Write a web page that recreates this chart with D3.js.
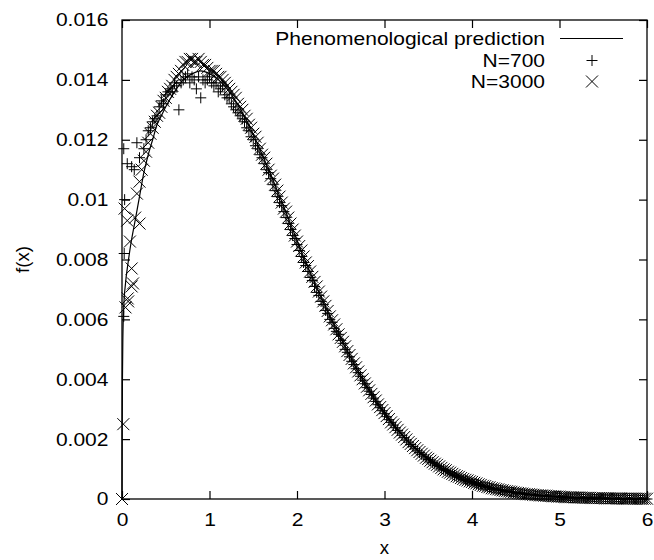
<!DOCTYPE html>
<html>
<head>
<meta charset="utf-8">
<script src="https://cdn.jsdelivr.net/npm/d3@7"></script>
<style>
body { margin: 0; background: #fff; }
text { font-family: "Liberation Sans", Arial, Helvetica, sans-serif; fill: #000; }
</style>
</head>
<body>
<svg class="chart" width="654" height="560"></svg>
<script>
// tick values / labels (gnuplot style)
var xTicks = [0, 1, 2, 3, 4, 5, 6]
var yTicks = [0, 0.002, 0.004, 0.006, 0.008, 0.01, 0.012, 0.014, 0.016]
var yTickLabels = ['0', '0.002', '0.004', '0.006', '0.008', '0.01', '0.012', '0.014', '0.016']

var legendLabels = ['Phenomenological prediction', 'N=700', 'N=3000']

// phenomenological prediction curve
var predX = [0, 0.002, 0.005, 0.01, 0.02, 0.04, 0.07, 0.1, 0.15, 0.2, 0.25, 0.3, 0.35, 0.4, 0.45, 0.5, 0.6, 0.7, 0.8, 0.9,
    1.0, 1.1, 1.2, 1.3, 1.4, 1.5, 1.6, 1.7, 1.8, 1.9, 2.0, 2.1, 2.2, 2.3, 2.4, 2.5, 2.6, 2.7, 2.8, 2.9,
    3.0, 3.1, 3.2, 3.3, 3.4, 3.5, 3.6, 3.7, 3.8, 3.9, 4.0, 4.2, 4.4, 4.6, 4.8, 5.0, 5.5, 6.0]
var predY = [0, 0.0022, 0.0040, 0.0054, 0.0064, 0.0072, 0.0079, 0.0085, 0.0093, 0.0101, 0.0109, 0.0115, 0.0120, 0.0125, 0.0128, 0.0131, 0.0136, 0.0140, 0.0142, 0.0143,
    0.01421, 0.01401, 0.0137, 0.01329, 0.01278, 0.01218, 0.01152, 0.01084, 0.01012, 0.00939, 0.00864, 0.00792, 0.00724, 0.00659, 0.00596, 0.00537, 0.0048, 0.00425, 0.00374, 0.00328,
    0.00286, 0.00248, 0.00214, 0.00183, 0.00156, 0.00133, 0.00113, 0.00095, 0.00079, 0.00066, 0.00056, 0.00038, 0.00026, 0.00017, 0.00011, 0.00007, 0.00002, 0.000005]

// N=700 histogram points  [x, f(x)]
var n700 = [
    [0.02, 0.0061], [0.025, 0.0082], [0.03, 0.0100], [0.02, 0.0117], [0.06, 0.0112], [0.11, 0.0111], [0.14, 0.0110], [0.17, 0.0119], [0.2, 0.0114],
    [0.25, 0.0117], [0.3, 0.0123], [0.35, 0.0126], [0.4, 0.0128], [0.45, 0.0133], [0.5, 0.0135], [0.55, 0.0137], [0.6, 0.0139], [0.65, 0.0130], [0.7, 0.0140],
    [0.75, 0.0142], [0.8, 0.0141], [0.85, 0.0137], [0.9, 0.0134], [0.95, 0.0139], [1.0, 0.0141], [1.05, 0.0138], [1.1, 0.0136], [1.15, 0.0138], [1.2, 0.0134],
    [1.25, 0.0132], [1.3, 0.0130], [1.35, 0.0128], [1.4, 0.0126], [1.45, 0.0123], [1.5, 0.0120], [1.55, 0.0117], [1.6, 0.0114], [1.65, 0.0110], [1.7, 0.0107],
    [1.75, 0.0103], [1.8, 0.0099], [1.85, 0.0096], [1.9, 0.0092], [1.95, 0.0088], [2.0, 0.0085], [2.05, 0.0081], [2.1, 0.0078], [2.15, 0.0074], [2.2, 0.0071],
    [2.25, 0.0068], [2.3, 0.0065], [2.35, 0.0062], [2.4, 0.0059], [2.45, 0.0056], [2.5, 0.0053], [2.55, 0.0050], [2.6, 0.00475], [2.65, 0.00449], [2.7, 0.00422],
    [2.75, 0.00397], [2.8, 0.00372], [2.85, 0.00349], [2.9, 0.00326], [2.95, 0.00305], [3.0, 0.00285], [3.05, 0.00265], [3.1, 0.00247], [3.15, 0.00229], [3.2, 0.00213],
    [3.25, 0.00197], [3.3, 0.00182], [3.35, 0.00168], [3.4, 0.00155], [3.45, 0.00143], [3.5, 0.00132], [3.55, 0.00122], [3.6, 0.00112], [3.65, 0.00103], [3.7, 0.00095],
    [3.75, 0.00087], [3.8, 0.00079], [3.85, 0.00073], [3.9, 0.00066], [3.95, 0.00061], [4.0, 0.00056], [4.05, 0.00051], [4.1, 0.00046], [4.15, 0.00042], [4.2, 0.00038],
    [4.25, 0.00034], [4.3, 0.00031], [4.35, 0.00029], [4.4, 0.00026], [4.45, 0.00023], [4.5, 0.00021], [4.55, 0.00019], [4.6, 0.00017], [4.65, 0.00015], [4.7, 0.00014],
    [4.75, 0.00012], [4.8, 0.00011], [4.85, 0.0001], [4.9, 0.00009], [4.95, 0.00008], [5.0, 0.00007], [5.05, 0.00006], [5.1, 0.00005], [5.15, 0.00005], [5.2, 0.00004],
    [5.25, 0.00004], [5.3, 0.00003], [5.35, 0.00003], [5.4, 0.00003], [5.45, 0.00002], [5.5, 0.00002], [5.55, 0.00002], [5.6, 0.00002], [5.65, 0.00001], [5.7, 0.00001],
    [5.75, 0.00001], [5.8, 0.00001], [5.85, 0.00001], [5.9, 0], [5.95, 0], [6.0, 0],
    [0.275, 0.0120], [0.325, 0.0124], [0.375, 0.0127], [0.425, 0.0131], [0.475, 0.0132], [0.525, 0.0136], [0.575, 0.0136], [0.625, 0.0138], [0.675, 0.0139], [0.725, 0.0141],
    [0.775, 0.0139], [0.825, 0.0140], [0.875, 0.0141], [0.925, 0.0140], [0.975, 0.0140], [1.025, 0.0139], [1.075, 0.0139], [1.125, 0.0137], [1.175, 0.0135], [1.225, 0.0134],
    [1.275, 0.0131], [1.325, 0.0129], [1.375, 0.0127], [1.425, 0.0124], [1.475, 0.0121], [1.525, 0.0118], [1.575, 0.0115], [1.625, 0.0112], [1.675, 0.0109], [1.725, 0.0105],
    [1.775, 0.0101], [1.825, 0.0098], [1.875, 0.0094], [1.925, 0.0090], [1.975, 0.0087], [2.025, 0.0083], [2.075, 0.0079], [2.125, 0.0076], [2.175, 0.0073], [2.225, 0.0069],
    [2.275, 0.0066], [2.325, 0.0063], [2.375, 0.0060], [2.425, 0.0057], [2.475, 0.0055], [2.525, 0.0052], [2.575, 0.0049], [2.625, 0.0046], [2.675, 0.00435], [2.725, 0.0041],
    [2.775, 0.00385], [2.825, 0.0036], [2.875, 0.00337], [2.925, 0.00315], [2.975, 0.00295], [3.025, 0.00275], [3.075, 0.00256], [3.125, 0.00238], [3.175, 0.00221], [3.225, 0.00205],
    [3.275, 0.0019], [3.325, 0.00175], [3.375, 0.00161], [3.425, 0.00149], [3.475, 0.00137], [3.525, 0.00127], [3.575, 0.00117], [3.625, 0.00108], [3.675, 0.00099], [3.725, 0.00091],
    [3.775, 0.00083], [3.825, 0.00076], [3.875, 0.0007], [3.925, 0.00064], [3.975, 0.00058], [4.025, 0.00053], [4.075, 0.00048], [4.125, 0.00044], [4.175, 0.0004], [4.225, 0.00036],
    [4.275, 0.00033], [4.325, 0.0003], [4.375, 0.00027], [4.425, 0.00024], [4.475, 0.00022], [4.525, 0.0002], [4.575, 0.00018], [4.625, 0.00016], [4.675, 0.00014], [4.725, 0.00013],
    [4.775, 0.00012], [4.825, 0.0001], [4.875, 0.00009], [4.925, 0.00008], [4.975, 0.00008], [5.025, 0.00007], [5.075, 0.00006], [5.125, 0.00005], [5.175, 0.00005], [5.225, 0.00004],
    [5.275, 0.00004], [5.325, 0.00003], [5.375, 0.00003], [5.425, 0.00002], [5.475, 0.00002], [5.525, 0.00002], [5.575, 0.00002], [5.625, 0.00001], [5.675, 0.00001], [5.725, 0.00001],
    [5.775, 0.00001], [5.825, 0.00001], [5.875, 0], [5.925, 0], [5.975, 0]
]

// N=3000 histogram points  [x, f(x)]
var n3000 = [
    [0, 0], [0.015, 0.0025], [0.04, 0.0064], [0.065, 0.0067], [0.07, 0.0066], [0.11, 0.0071], [0.126, 0.0072], [0.11, 0.0077], [0.09, 0.0086], [0.03, 0.0097],
    [0.06, 0.0093], [0.15, 0.0094], [0.2, 0.0092], [0.17, 0.0102], [0.2, 0.0106],
    [0.225, 0.0110], [0.275, 0.0116], [0.325, 0.0122], [0.375, 0.0126], [0.425, 0.0129], [0.475, 0.0133], [0.525, 0.0136], [0.575, 0.0138], [0.625, 0.0141], [0.675, 0.0143],
    [0.725, 0.0146], [0.775, 0.0147], [0.825, 0.0146], [0.875, 0.0147], [0.925, 0.0145], [0.975, 0.0144], [1.025, 0.0143], [1.075, 0.0142], [1.125, 0.0141], [1.175, 0.0139],
    [1.225, 0.0137], [1.275, 0.0135], [1.325, 0.0132], [1.375, 0.0130], [1.425, 0.0127], [1.475, 0.0124], [1.525, 0.0121], [1.575, 0.0117], [1.625, 0.0114], [1.675, 0.0110],
    [1.725, 0.0107], [1.775, 0.0103], [1.825, 0.0099], [1.875, 0.0096], [1.925, 0.0092], [1.975, 0.0088], [2.025, 0.00845], [2.075, 0.0081], [2.125, 0.00778], [2.175, 0.00742],
    [2.225, 0.0071], [2.275, 0.00676], [2.325, 0.00645], [2.375, 0.0061], [2.425, 0.00583], [2.475, 0.0055], [2.525, 0.00525], [2.575, 0.00494], [2.625, 0.00468], [2.675, 0.0044],
    [2.725, 0.00413], [2.775, 0.00386], [2.825, 0.00363], [2.875, 0.0034], [2.925, 0.00316], [2.975, 0.00297], [3.025, 0.00277], [3.075, 0.00256], [3.125, 0.0024], [3.175, 0.00222],
    [3.225, 0.00207], [3.275, 0.0019], [3.325, 0.00177], [3.375, 0.00163], [3.425, 0.00151], [3.475, 0.00138], [3.525, 0.00128], [3.575, 0.00118], [3.625, 0.00109], [3.675, 0.00099],
    [3.725, 0.00091], [3.775, 0.00084], [3.825, 0.00076], [3.875, 0.0007], [3.925, 0.00064], [3.975, 0.00059], [4.025, 0.00054], [4.075, 0.00049], [4.125, 0.00044], [4.175, 0.0004],
    [4.225, 0.00036], [4.275, 0.00033], [4.325, 0.0003], [4.375, 0.00027], [4.425, 0.00025], [4.475, 0.00022], [4.525, 0.0002], [4.575, 0.00018], [4.625, 0.00016], [4.675, 0.00015],
    [4.725, 0.00013], [4.775, 0.00012], [4.825, 0.00011], [4.875, 0.0001], [4.925, 0.00009], [4.975, 0.00008], [5.025, 0.00007], [5.075, 0.00006], [5.125, 0.00006], [5.175, 0.00005],
    [5.225, 0.00005], [5.275, 0.00004], [5.325, 0.00004], [5.375, 0.00003], [5.425, 0.00003], [5.475, 0.00003], [5.525, 0.00002], [5.575, 0.00002], [5.625, 0.00002], [5.675, 0.00002],
    [5.725, 0.00001], [5.775, 0.00001], [5.825, 0.00001], [5.875, 0.00001], [5.925, 0.00001], [5.975, 0.00001],
    [0.25, 0.0113], [0.3, 0.0119], [0.35, 0.0124], [0.4, 0.0128], [0.45, 0.0131], [0.5, 0.0134], [0.55, 0.0137], [0.6, 0.0140], [0.65, 0.0142], [0.7, 0.0145],
    [0.75, 0.0146], [0.8, 0.0147], [0.85, 0.0146], [0.9, 0.0146], [0.95, 0.0145], [1.0, 0.0143], [1.05, 0.0143], [1.1, 0.0141], [1.15, 0.0140], [1.2, 0.0138],
    [1.25, 0.0136], [1.3, 0.0134], [1.35, 0.0131], [1.4, 0.0128], [1.45, 0.0125], [1.5, 0.0122], [1.55, 0.0119], [1.6, 0.0115], [1.65, 0.0112], [1.7, 0.0108],
    [1.75, 0.0105], [1.8, 0.0101], [1.85, 0.0097], [1.9, 0.0094], [1.95, 0.0090], [2.0, 0.0086], [2.05, 0.0083], [2.1, 0.0079], [2.15, 0.0076], [2.2, 0.00725],
    [2.25, 0.00693], [2.3, 0.0066], [2.35, 0.00628], [2.4, 0.00597], [2.45, 0.00567], [2.5, 0.00538], [2.55, 0.0051], [2.6, 0.00481], [2.65, 0.00453], [2.7, 0.00426],
    [2.75, 0.004], [2.8, 0.00375], [2.85, 0.00351], [2.9, 0.00329], [2.95, 0.00307], [3.0, 0.00287], [3.05, 0.00267], [3.1, 0.00249], [3.15, 0.00231], [3.2, 0.00215],
    [3.25, 0.00199], [3.3, 0.00184], [3.35, 0.0017], [3.4, 0.00157], [3.45, 0.00145], [3.5, 0.00134], [3.55, 0.00123], [3.6, 0.00114], [3.65, 0.00104], [3.7, 0.00096],
    [3.75, 0.00088], [3.8, 0.0008], [3.85, 0.00074], [3.9, 0.00067], [3.95, 0.00062], [4.0, 0.00057], [4.05, 0.00052], [4.1, 0.00047], [4.15, 0.00043], [4.2, 0.00039],
    [4.25, 0.00035], [4.3, 0.00032], [4.35, 0.00029], [4.4, 0.00026], [4.45, 0.00024], [4.5, 0.00021], [4.55, 0.00019], [4.6, 0.00017], [4.65, 0.00016], [4.7, 0.00014],
    [4.75, 0.00013], [4.8, 0.00012], [4.85, 0.00011], [4.9, 0.0001], [4.95, 0.00009], [5.0, 0.00008], [5.05, 0.00007], [5.1, 0.00006], [5.15, 0.00006], [5.2, 0.00005],
    [5.25, 0.00005], [5.3, 0.00004], [5.35, 0.00004], [5.4, 0.00003], [5.45, 0.00003], [5.5, 0.00003], [5.55, 0.00002], [5.6, 0.00002], [5.65, 0.00002], [5.7, 0.00002],
    [5.75, 0.00001], [5.8, 0.00001], [5.85, 0.00001], [5.9, 0.00001], [5.95, 0.00001], [6.0, 0.00001]
]

var fontSize = 18.6
var stretch = 'scale(1.13,1)'   // reference glyphs are a bit wider than Liberation Sans

var svg = d3.select('.chart')

var xScale = d3.scaleLinear().domain([0, 6]).range([122, 647])
var yScale = d3.scaleLinear().domain([0, 0.016]).range([499, 20])

// marker shapes
var plusPath = function(s) { return 'M' + (-s) + ',0H' + s + 'M0,' + (-s) + 'V' + s }
var timesPath = function(s) { return 'M' + (-s) + ',' + (-s) + 'L' + s + ',' + s + 'M' + (-s) + ',' + s + 'L' + s + ',' + (-s) }

// axes: inward ticks on all four sides, labels bottom/left only
var xAxis = d3.axisBottom(xScale).tickValues(xTicks).tickSize(-8).tickPadding(14).tickFormat(d3.format('d'))
var yAxis = d3.axisLeft(yScale).tickValues(yTicks).tickSize(-8).tickPadding(12)
    .tickFormat(function(d, i) { return yTickLabels[i] })
var xAxisTop = d3.axisTop(xScale).tickValues(xTicks).tickSize(-8).tickFormat('')
var yAxisRight = d3.axisRight(yScale).tickValues(yTicks).tickSize(-8).tickFormat('')

function styleAxis(g) {
    g.select('.domain').remove()
    g.selectAll('.tick line').attr('stroke', '#000').attr('stroke-width', 1.2)
    g.selectAll('.tick text')
        .attr('fill', '#000')
        .style('font-size', fontSize + 'px')
        .style('font-family', '"Liberation Sans", Arial, Helvetica, sans-serif')
        .attr('transform', stretch)
}

svg.append('g').attr('class', 'x-axis').attr('transform', 'translate(0,499)').call(xAxis).call(styleAxis)
svg.append('g').attr('class', 'y-axis').attr('transform', 'translate(122,0)').call(yAxis).call(styleAxis)
svg.append('g').attr('transform', 'translate(0,20)').call(xAxisTop).call(styleAxis)
svg.append('g').attr('transform', 'translate(647,0)').call(yAxisRight).call(styleAxis)

// frame
svg.append('rect')
    .attr('x', xScale(0)).attr('y', yScale(0.016))
    .attr('width', xScale(6) - xScale(0)).attr('height', yScale(0) - yScale(0.016))
    .attr('fill', 'none').attr('stroke', '#000').attr('stroke-width', 1.3)

// axis titles
svg.append('text')
    .text('x')
    .attr('x', (xScale(0) + xScale(6)) / 2).attr('y', 554)
    .attr('text-anchor', 'middle')
    .style('font-size', fontSize + 'px')

svg.append('text')
    .text('f(x)')
    .attr('transform', 'translate(29,' + ((yScale(0) + yScale(0.016)) / 2) + ') rotate(-90)')
    .attr('text-anchor', 'middle')
    .style('font-size', fontSize + 'px')

// prediction curve
var predData = predX.map(function(d, i) { return [d, predY[i]] })
var line = d3.line()
    .x(function(d) { return xScale(d[0]) })
    .y(function(d) { return yScale(d[1]) })
    .curve(d3.curveMonotoneX)

svg.append('path')
    .datum(predData)
    .attr('d', line)
    .attr('fill', 'none')
    .attr('stroke', '#000')
    .attr('stroke-width', 1.2)

// N=700 points (+)
svg.selectAll('.p700').data(n700)
    .enter()
    .append('path')
    .attr('class', 'p700')
    .attr('d', plusPath(5.5))
    .attr('transform', function(d) { return 'translate(' + xScale(d[0]) + ',' + yScale(d[1]) + ')' })
    .attr('fill', 'none').attr('stroke', '#000').attr('stroke-width', 1)

// N=3000 points (x)
svg.selectAll('.p3000').data(n3000)
    .enter()
    .append('path')
    .attr('class', 'p3000')
    .attr('d', timesPath(6))
    .attr('transform', function(d) { return 'translate(' + xScale(d[0]) + ',' + yScale(d[1]) + ')' })
    .attr('fill', 'none').attr('stroke', '#000').attr('stroke-width', 1)

// legend
var legend = svg.append('g').attr('class', 'legend')
var rowY = [45, 67, 88]

legend.selectAll('.legendlabels').data(legendLabels)
    .enter()
    .append('text')
    .attr('class', 'legendlabels')
    .text(function(d) { return d })
    .attr('text-anchor', 'end')
    .attr('transform', function(d, i) { return 'translate(545,' + rowY[i] + ') ' + stretch })
    .style('font-size', fontSize + 'px')

legend.append('line')
    .attr('x1', 560).attr('x2', 623)
    .attr('y1', rowY[0] - 6.5).attr('y2', rowY[0] - 6.5)
    .attr('stroke', '#000').attr('stroke-width', 1.2)

legend.append('path')
    .attr('d', plusPath(5.5))
    .attr('transform', 'translate(592,' + (rowY[1] - 6.5) + ')')
    .attr('fill', 'none').attr('stroke', '#000').attr('stroke-width', 1)

legend.append('path')
    .attr('d', timesPath(6))
    .attr('transform', 'translate(592,' + (rowY[2] - 6.5) + ')')
    .attr('fill', 'none').attr('stroke', '#000').attr('stroke-width', 1)
</script>
</body>
</html>
